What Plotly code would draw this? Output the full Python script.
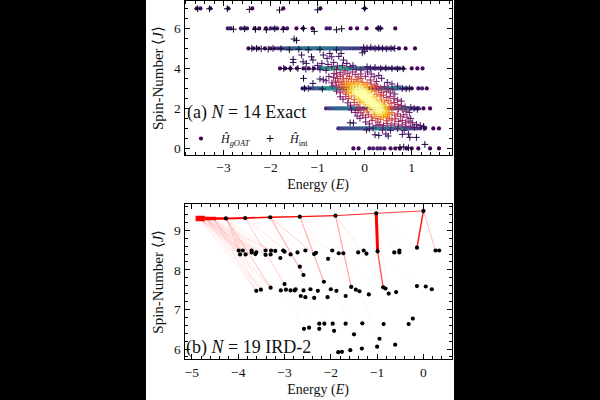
import numpy as np
import plotly.graph_objects as go

# Panel (a): gOAT spectrum, energies of the states on each integer spin level
goat_j7 = [-3.57,-3.49,-3.28,-2.90,-2.39,-1.73,-0.94,0.0]
goat_j6 = [-2.91,-2.85,-2.63,-2.56,-2.50,-2.34,-2.24,-2.10,-2.00,-1.93,-1.86,-1.73,-1.65,-1.45,-1.31,-1.11,-0.81,-0.74,-0.30,-0.16,0.04,0.27,0.34,0.65]
goat_j5 = [-2.47,-2.36,-2.26,-2.12,-2.00,-1.91,-1.84,-1.78,-1.73,-1.67,-1.62,-1.58,-1.53,-1.49,-1.45,-1.41,-1.37,-1.33,-1.29,-1.26,-1.22,-1.18,-1.15,-1.11,-1.07,-1.03,-1.0,-0.96,-0.92,-0.88,-0.85,-0.81,-0.77,-0.73,-0.69,-0.65,-0.61,-0.57,-0.52,-0.47,-0.42,-0.37,-0.31,-0.25,-0.19,-0.13,-0.07,-0.01,0.05,0.12,0.18,0.25,0.31,0.38,0.45,0.52,0.6,0.73,0.87,1.07]
goat_j4 = [-1.80,-1.69,-1.58,-1.44,-1.30,-1.19,-1.08,-0.98,-0.94,-0.91,-0.88,-0.85,-0.82,-0.80,-0.77,-0.74,-0.72,-0.69,-0.67,-0.64,-0.62,-0.59,-0.57,-0.54,-0.52,-0.49,-0.47,-0.44,-0.41,-0.38,-0.35,-0.32,-0.29,-0.26,-0.22,-0.19,-0.15,-0.11,-0.07,-0.03,0.02,0.07,0.12,0.18,0.24,0.3,0.37,0.44,0.51,0.58,0.66,0.74,0.82,1.0,1.12,1.23]
goat_j3 = [-1.32,-1.26,-1.16,-1.11,-1.06,-1.01,-0.97,-0.93,-0.89,-0.85,-0.82,-0.79,-0.76,-0.73,-0.7,-0.67,-0.64,-0.61,-0.58,-0.55,-0.51,-0.47,-0.43,-0.38,-0.32,-0.25,-0.17,-0.09,0.0,0.08,0.16,0.23,0.29,0.34,0.39,0.43,0.47,0.5,0.53,0.56,0.59,0.62,0.65,0.68,0.71,0.75,0.79,0.84,0.9,1.0,1.14,1.22,1.32]
goat_j2 = [-0.82,-0.76,-0.71,-0.66,-0.61,-0.57,-0.53,-0.49,-0.45,-0.41,-0.37,-0.33,-0.29,-0.25,-0.21,-0.16,-0.1,-0.03,0.05,0.14,0.24,0.33,0.42,0.5,0.56,0.62,0.67,0.72,0.76,0.79,0.82,0.85,0.88,0.91,0.95,0.99,1.04,1.09,1.15,1.25,1.39]
goat_j1 = [-0.56,-0.51,-0.46,-0.41,-0.36,-0.31,-0.26,-0.21,-0.16,-0.11,-0.06,-0.01,0.03,0.07,0.1,0.13,0.16,0.19,0.22,0.25,0.28,0.31,0.35,0.39,0.43,0.47,0.51,0.55,0.59,0.63,0.67,0.71,0.74,0.77,0.8,0.83,0.87,0.91,0.96,1.01,1.06,1.12,1.18,1.28,1.46,1.58]
goat_j0 = [-0.24,-0.13,0.10,0.18,0.27,0.34,0.42,0.55,0.65,0.75,0.89,1.0,1.14,1.39,1.58]

# Panel (a): interacting spectrum, (energy, spin) of each state
int_levels = [
    (-3.55,6.98),(-3.3,6.98),(-2.92,6.98),(-2.45,6.95),(-1.81,6.92),(-1.0,6.93),(0.0,7.0),
    (-2.79,5.96),(-2.55,5.98),(-2.32,5.95),(-2.09,5.93),(-1.91,5.98),(-1.73,5.95),(-1.3,6.0),(-1.07,5.85),(-0.6,5.93),(-0.49,5.98),(0.29,6.0),(0.33,6.0),
    (-2.40,5.0),(-2.3,5.0),(-2.2,4.98),(-2.05,4.96),(-1.95,5.0),(-1.78,4.98),(-1.6,4.93),(-1.4,4.96),(-1.2,4.93),(-0.95,4.95),(-0.02,5.05),(0.05,5.02),(0.13,5.06),(0.22,5.0),(0.3,5.03),(0.38,5.0),(0.47,4.98),(0.56,5.0),(0.64,5.0),(-0.05,4.78),(0.0,4.85),
    (-1.72,4.0),(-1.58,3.98),(-1.42,4.0),(-1.25,3.96),(-1.1,3.97),(-0.95,3.95),(0.05,4.08),(0.12,4.02),(0.22,4.05),(0.34,4.0),(0.45,4.02),(0.58,4.0),(0.7,3.98),(0.82,3.98),
    (-1.28,3.0),(-1.2,3.0),(-0.9,2.97),(0.8,3.0),(0.88,2.98),(0.95,3.0),
    (-0.12,2.0),(0.98,2.05),(1.05,2.0),(1.12,1.95),
    (0.1,0.98),(0.18,1.02),(0.04,0.92),(1.25,1.1),(1.26,1.03),
    (0.75,0.05),(0.83,0.07),(0.93,0.03),(1.28,0.2),
    (-0.31,1.28),(-0.24,1.27),(0.22,0.68),(0.3,0.65),(0.45,0.72),(0.5,0.62),(0.8,0.7),(0.93,0.72),(0.96,0.55),(1.1,0.55),
]
int_upper = [
    (-1.5,5.47),(-1.45,5.4),(-1.52,4.45),(-1.52,4.3),(-1.34,4.67),(-1.31,4.33),(-1.13,4.58),(-1.1,4.42),(-1.24,4.25),
    (-0.88,4.67),(-0.74,4.75),(-0.6,4.92),(-0.7,4.58),(-0.91,4.25),(-0.5,4.75),(-0.55,4.6),(-0.8,4.5),(-1.0,4.15),(-0.78,4.2),
    (-0.45,4.42),(-0.38,4.25),(-0.31,4.08),(-0.66,4.3),(-0.58,4.12),(-0.7,4.08),(-0.47,4.15),(-0.25,4.15),(-0.18,3.95),(-0.08,3.92),
    (-1.1,3.25),(-1.3,3.5),(-0.95,3.47),(-0.88,3.43),(-0.82,3.38),(-0.76,3.6),(-0.7,3.28),(-0.65,3.75),(-0.6,3.95),(-0.82,3.9),
    (0.06,3.82),(0.14,3.72),(0.2,3.58),(0.3,3.65),(0.36,3.5),(0.48,3.3),(0.58,3.22),(0.7,3.12),(0.25,3.35),(0.12,3.42),(0.02,3.6),(-0.08,3.72),
]
int_band = [
    (-0.6,3.72),(-0.52,3.8),(-0.46,3.68),(-0.42,3.88),(-0.36,3.76),(-0.32,3.6),(-0.26,3.82),(-0.2,3.7),(-0.14,3.58),(-0.66,3.55),(-0.58,3.5),(-0.52,3.6),(-0.45,3.48),(-0.38,3.5),
    (-0.28,3.46),(-0.18,3.44),(-0.08,3.5),(-0.62,3.36),(-0.55,3.3),(-0.48,3.36),(-0.44,3.26),(-0.34,3.34),(-0.24,3.32),(-0.14,3.36),(-0.05,3.3),(0.05,3.28),(0.14,3.22),(0.22,3.16),
    (-0.68,3.12),(-0.6,3.16),(-0.54,3.05),(-0.5,3.2),(-0.47,3.0),(0.12,3.1),(0.2,3.04),(0.28,3.1),(0.34,3.02),(0.42,3.1),(0.5,3.0),(0.6,2.96),
    (-0.6,2.86),(-0.52,2.78),(-0.44,2.86),(-0.4,2.72),(-0.34,2.8),(0.14,2.92),(0.22,2.86),(0.3,2.92),(0.36,2.8),(0.46,2.85),(0.55,2.78),(0.64,2.72),
    (-0.52,2.58),(-0.46,2.46),(-0.4,2.6),(-0.34,2.5),(-0.28,2.62),(-0.22,2.44),(0.26,2.7),(0.33,2.62),(0.4,2.66),(0.46,2.55),(0.54,2.6),(0.62,2.5),(0.7,2.42),(0.78,2.36),
    (-0.36,2.28),(-0.3,2.16),(-0.22,2.3),(-0.16,2.18),(-0.1,2.3),(0.36,2.42),(0.42,2.32),(0.5,2.38),(0.56,2.26),(0.63,2.3),(0.7,2.2),(0.78,2.14),(0.86,2.08),
    (-0.28,1.92),(-0.2,1.8),(-0.14,1.9),(-0.08,1.78),(-0.02,1.92),(0.05,1.82),(0.52,2.1),(0.58,2.02),(0.65,2.08),(0.72,1.96),(0.8,1.94),(0.88,1.86),(0.95,1.8),
    (-0.16,1.62),(-0.1,1.5),(-0.04,1.66),(0.02,1.55),(0.08,1.68),(0.14,1.58),(0.2,1.7),(0.58,1.78),(0.64,1.66),(0.7,1.72),(0.76,1.6),(0.83,1.68),(0.9,1.56),(0.98,1.5),
    (0.02,1.32),(0.1,1.22),(0.16,1.4),(0.24,1.5),(0.28,1.32),(0.34,1.45),(0.4,1.56),(0.46,1.38),(0.52,1.5),(0.58,1.42),(0.66,1.48),(0.72,1.34),(0.8,1.4),(0.87,1.28),(0.94,1.36),(1.02,1.28),(1.1,1.2),(1.18,1.15),
    (0.24,1.14),(0.32,1.2),(0.4,1.14),(0.48,1.24),(0.56,1.16),(0.64,1.22),(0.72,1.12),(0.8,1.18),(0.88,1.08),(0.98,1.12),(1.06,1.04),(0.7,0.98),(0.55,0.9),(0.38,0.92),(0.84,0.9),
]
int_core = [
    (-0.38,3.21),(-0.3,3.18),(-0.22,3.23),(-0.12,3.19),(-0.02,3.2),(-0.42,3.08),(-0.33,3.12),(-0.26,3.07),(-0.18,3.13),(-0.1,3.06),(-0.04,3.11),(0.05,3.07),
    (-0.36,3.0),(-0.3,2.97),(-0.24,3.02),(-0.17,2.98),(-0.11,3.01),(-0.05,2.96),(0.02,3.0),(-0.3,2.89),(-0.25,2.92),(-0.2,2.87),(-0.14,2.91),(-0.08,2.88),(-0.02,2.92),(0.06,2.88),
    (-0.28,2.79),(-0.2,2.82),(-0.15,2.77),(-0.1,2.81),(-0.04,2.78),(0.02,2.82),(0.1,2.78),(-0.2,2.69),(-0.13,2.72),(-0.08,2.67),(-0.03,2.71),(0.03,2.68),(0.09,2.72),
    (-0.15,2.58),(-0.08,2.61),(-0.02,2.57),(0.04,2.62),(0.1,2.58),(0.18,2.6),(-0.12,2.48),(-0.05,2.52),(0.01,2.47),(0.06,2.51),(0.12,2.48),(0.2,2.52),
    (-0.06,2.39),(0.02,2.42),(0.07,2.37),(0.12,2.41),(0.18,2.38),(0.25,2.42),(-0.02,2.29),(0.05,2.32),(0.11,2.27),(0.16,2.31),(0.21,2.28),(0.28,2.32),
    (0.03,2.19),(0.1,2.22),(0.15,2.18),(0.2,2.21),(0.26,2.17),(0.32,2.22),(0.4,2.18),(0.08,2.09),(0.14,2.12),(0.2,2.08),(0.25,2.11),(0.3,2.07),(0.36,2.12),(0.44,2.08),
    (0.12,1.99),(0.18,2.02),(0.24,1.98),(0.29,2.01),(0.34,1.97),(0.4,2.02),(0.47,1.98),(0.18,1.89),(0.25,1.92),(0.31,1.88),(0.36,1.91),(0.41,1.87),(0.48,1.91),
    (0.24,1.79),(0.3,1.82),(0.36,1.78),(0.42,1.81),(0.5,1.78),(0.3,1.69),(0.38,1.72),(0.44,1.68),(0.52,1.71),(0.4,1.6),(0.48,1.58),(0.3,1.58),
]

# Panel (b): IRD-2 spectrum, (energy, spin) of each state
ird_top = [(0.0,9.49),(-1.02,9.43),(-1.9,9.37),(-2.67,9.345),(-3.31,9.33),(-3.85,9.31),(-4.265,9.30)]
ird_high = [
    (-3.99,8.49),(-3.90,8.49),(-3.96,8.39),(-3.84,8.39),(-3.71,8.49),(-3.71,8.44),(-3.61,8.44),(-3.63,8.40),(-3.41,8.49),(-3.41,8.38),
    (-3.29,8.49),(-3.30,8.39),(-3.20,8.48),(-3.09,8.30),(-3.03,8.49),(-3.00,8.46),(-2.87,8.39),(-2.72,8.44),(-2.55,8.49),(-2.67,8.08),
    (-2.59,7.87),(-2.36,8.40),(-2.32,8.43),(-2.06,8.28),(-1.97,8.49),(-1.83,8.42),(-1.73,8.42),(-1.41,8.44),(-1.29,8.49),(-1.23,8.41),
    (-0.63,8.44),(-0.52,8.49),(-0.52,8.44),(-0.14,8.56),(0.26,8.49),(0.34,8.49),(-0.99,8.47),
]
ird_mid = [
    (-3.61,7.47),(-3.51,7.50),(-3.30,7.55),(-3.08,7.48),(-3.00,7.64),(-2.97,7.50),(-2.87,7.48),(-2.78,7.48),(-2.76,7.51),(-2.65,7.34),
    (-2.59,7.48),(-2.55,7.31),(-2.44,7.51),(-2.36,7.29),(-2.28,7.47),(-2.15,7.70),(-2.07,7.31),(-2.00,7.51),(-1.88,7.47),(-1.68,7.34),
    (-1.56,7.57),(-1.46,7.50),(-1.38,7.46),(-1.18,7.38),(-0.87,7.56),(-0.82,7.53),(-0.75,7.40),(-0.59,7.44),(-0.14,7.59),(0.05,7.58),(0.18,7.51),
]
ird_low = [
    (-2.58,6.51),(-2.47,6.54),(-2.25,6.64),(-2.14,6.64),(-2.25,6.51),(-1.96,6.64),(-1.93,6.46),(-1.68,6.64),(-1.50,6.37),(-1.32,6.65),
    (-0.86,6.63),(-0.95,6.26),(-0.32,6.63),(-0.23,6.77),(-1.84,5.92),(-1.76,5.93),(-1.58,5.97),(-1.33,6.01),(-1.00,6.06),(-0.61,6.11),
]

# Transition paths: start energy, start spin, end energy, end spin, width, opacity
ird_spine = [
    (-4.92,9.30,-4.72,9.30,5.5,1.0),(-4.72,9.30,-4.48,9.30,3.5,1.0),(-4.48,9.30,-4.265,9.30,2.4,1.0),(-4.265,9.30,-3.85,9.31,2.0,1.0),
    (-3.85,9.31,-3.31,9.33,1.7,1.0),(-3.31,9.33,-2.67,9.345,1.4,1.0),(-2.67,9.345,-1.9,9.37,1.2,0.95),(-1.9,9.37,-1.02,9.43,1.0,0.85),(-1.02,9.43,0.0,9.49,1.0,0.75),
    (-1.02,9.43,-0.99,8.47,3.0,1.0),(0.0,9.49,-0.14,8.56,1.6,0.85),(-0.99,8.47,-0.87,7.56,1.3,0.7),
    (0.0,9.49,0.26,8.49,1.0,0.25),(-1.9,9.37,-1.56,7.57,1.2,0.35),(-2.67,9.345,-2.15,7.70,1.2,0.32),(-3.31,9.33,-2.59,7.87,1.2,0.3),
    (-3.31,9.33,-2.36,8.40,1.0,0.2),(-3.85,9.31,-3.00,7.64,1.0,0.2),(-4.265,9.30,-3.30,7.55,1.0,0.2),(-3.85,9.31,-2.87,8.39,1.0,0.12),
]
ird_fan_start = [(-4.84,9.30),(-4.7,9.30),(-4.55,9.30),(-4.265,9.30)]
ird_fan_end = [(-3.99,8.49),(-3.90,8.49),(-3.96,8.39),(-3.84,8.39),(-3.71,8.44),(-3.61,8.44),(-3.41,8.38),(-3.61,7.47),(-3.51,7.50),(-3.30,7.55),(-3.29,8.49)]
ird_faint = [
    (-1.02,9.43,-0.63,8.44),(-1.02,9.43,-0.52,8.49),(-1.02,9.43,-0.75,7.40),(-1.9,9.37,-0.82,7.53),(-1.9,9.37,-1.29,8.49),(-1.9,9.37,-0.59,7.44),
    (-2.67,9.345,-1.73,8.42),(-2.67,9.345,-1.41,8.44),(-2.67,9.345,-1.46,7.50),(-3.31,9.33,-1.97,8.49),(-3.31,9.33,-2.00,7.51),(-3.85,9.31,-2.36,8.40),
    (-3.85,9.31,-2.44,7.51),(-0.99,8.47,-0.14,7.59),(-1.02,9.43,-0.14,8.56),(-2.0,8.49,-0.75,7.40),(-3.0,7.48,-2.58,6.51),(-2.87,7.48,-2.25,6.51),
    (-2.44,7.51,-1.93,6.46),(-1.88,7.47,-1.5,6.37),(-1.38,7.46,-0.95,6.26),
]

W, H = 600.0, 400.0
SERIF = "Liberation Serif"
INK = "#111111"


def density(e, j, sig_e, sig_j):
    # Gaussian point density used to colour each state
    e, j = np.asarray(e), np.asarray(j)
    de = (e[:, None] - e[None, :]) / sig_e
    dj = (j[:, None] - j[None, :]) / sig_j
    return np.exp(-0.5 * (de ** 2 + dj ** 2)).sum(axis=1)


goat_levels = [(7, goat_j7), (6, goat_j6), (5, goat_j5), (4, goat_j4), (3, goat_j3), (2, goat_j2), (1, goat_j1), (0, goat_j0)]
goat_e = np.array([v for _, lv in goat_levels for v in lv])
goat_s = np.array([float(n) for n, lv in goat_levels for _ in lv])
goat_d = density(goat_e, goat_s, 0.05, 0.1)
order = np.argsort(goat_d)
goat_e, goat_s, goat_d = goat_e[order], goat_s[order], goat_d[order]

int_all = np.array(int_levels + int_upper + int_band + int_core)
int_d = density(int_all[:, 0], int_all[:, 1], 0.14, 0.25)
order = np.argsort(int_d)
int_all, int_d = int_all[order], int_d[order]

fig = go.Figure()

fig.add_trace(go.Scatter(
    x=goat_e, y=goat_s, mode="markers", name="<i>Ĥ</i><sub><i>gOAT</i></sub>",
    marker=dict(symbol="circle", size=4.2, color=goat_d, colorscale="Viridis", cmin=1, cmax=7.2, line_width=0),
    xaxis="x", yaxis="y",
))
fig.add_trace(go.Scatter(
    x=int_all[:, 0], y=int_all[:, 1], mode="markers", name="<i>Ĥ</i><sub>int</sub>",
    marker=dict(symbol="cross-thin", size=4.8, color=int_d, colorscale="Inferno", cmin=0.0, cmax=27.0,
                line=dict(width=1.0, color=int_d, colorscale="Inferno", cmin=0.0, cmax=27.0)),
    xaxis="x", yaxis="y",
))

for e0, j0, e1, j1 in ird_faint:
    fig.add_trace(go.Scatter(x=[e0, e1], y=[j0, j1], mode="lines", showlegend=False,
                             line=dict(color="rgba(255,0,0,0.06)", width=0.8), xaxis="x2", yaxis="y2", hoverinfo="skip"))
for e0, j0 in ird_fan_start:
    for e1, j1 in ird_fan_end:
        fig.add_trace(go.Scatter(x=[e0, e1], y=[j0, j1], mode="lines", showlegend=False,
                                 line=dict(color="rgba(255,0,0,0.07)", width=1), xaxis="x2", yaxis="y2", hoverinfo="skip"))
for e0, j0, e1, j1, w, a in ird_spine:
    fig.add_trace(go.Scatter(x=[e0, e1], y=[j0, j1], mode="lines", showlegend=False,
                             line=dict(color=f"rgba(255,0,0,{a})", width=w), xaxis="x2", yaxis="y2", hoverinfo="skip"))

ird_states = np.array(ird_top + ird_high + ird_mid + ird_low)
fig.add_trace(go.Scatter(x=ird_states[:, 0], y=ird_states[:, 1], mode="markers", showlegend=False,
                         marker=dict(color="black", size=4.2), xaxis="x2", yaxis="y2"))

# Empty traces so the overlay axes carrying the top and right ticks get drawn
for xa, ya in (("x3", "y3"), ("x4", "y4")):
    fig.add_trace(go.Scatter(x=[None], y=[None], mode="markers", showlegend=False, xaxis=xa, yaxis=ya, hoverinfo="skip"))


def tick_style(dtick, minor):
    return dict(
        tickmode="linear", tick0=0, dtick=dtick, showgrid=False, zeroline=False,
        showline=True, linecolor="black", linewidth=1, ticks="inside", ticklen=5, tickcolor="black",
        minor=dict(tickmode="linear", tick0=0, dtick=minor, ticks="inside", ticklen=3, tickcolor="black", showgrid=False),
    )


def axis_style(rng, dtick, minor, domain, anchor, title, title_size, standoff):
    return dict(
        range=rng, domain=domain, anchor=anchor, **tick_style(dtick, minor),
        tickfont=dict(family=SERIF, size=13.5, color=INK),
        title=dict(text=title, font=dict(family=SERIF, size=title_size, color=INK), standoff=standoff),
    )


def mirror_style(rng, dtick, minor, over, anchor, side):
    return dict(
        range=rng, overlaying=over, anchor=anchor, side=side, showticklabels=False, **tick_style(dtick, minor),
    )


L, R = 184.5, 451.7
range_xa, range_ya = [-3.83, 1.85], [-0.33, 7.37]
range_xb, range_yb = [-5.16, 0.61], [5.74, 9.665]
fig.update_layout(
    width=600, height=400, margin=dict(l=0, r=0, t=0, b=0), autosize=False,
    paper_bgcolor="black", plot_bgcolor="white",
    font=dict(family=SERIF, color=INK),
    xaxis=axis_style(range_xa, 1, 0.2, [L / W, R / W], "y", "Energy (<i>E</i>)", 14, 4),
    yaxis=axis_style(range_ya, 2, 0.5, [1 - 155 / H, 1 - 1 / H], "x", "Spin-Number ⟨<i>J</i>⟩", 15, 6),
    xaxis2=axis_style(range_xb, 1, 0.2, [L / W, R / W], "y2", "Energy (<i>E</i>)", 14, 5),
    yaxis2=axis_style(range_yb, 1, 0.2, [1 - 359.3 / H, 1 - 204 / H], "x2", "Spin-Number ⟨<i>J</i>⟩", 15, 6),
    xaxis3=mirror_style(range_xa, 1, 0.2, "x", "y3", "top"),
    yaxis3=mirror_style(range_ya, 2, 0.5, "y", "x3", "right"),
    xaxis4=mirror_style(range_xb, 1, 0.2, "x2", "y4", "top"),
    yaxis4=mirror_style(range_yb, 1, 0.2, "y2", "x4", "right"),
    legend=dict(orientation="h", x=181 / W, y=1 - 124 / H, xanchor="left", yanchor="top", bgcolor="rgba(0,0,0,0)",
                font=dict(family=SERIF, size=12, color=INK), entrywidth=24, entrywidthmode="pixels",
                itemsizing="trace", traceorder="normal", itemwidth=30),
    shapes=[dict(type="rect", xref="paper", yref="paper", x0=146 / W, x1=454 / W, y0=0, y1=1,
                 fillcolor="white", line_width=0, layer="below")],
    annotations=[
        dict(text="(a) <i>N</i> = 14 Exact", xref="paper", yref="paper", x=185 / W, y=1 - 112 / H,
             xanchor="left", yanchor="middle", showarrow=False, font=dict(family=SERIF, size=18, color=INK)),
        dict(text="(b) <i>N</i> = 19 IRD-2", xref="paper", yref="paper", x=184 / W, y=1 - 347 / H,
             xanchor="left", yanchor="middle", showarrow=False, font=dict(family=SERIF, size=18, color=INK)),
    ],
)

fig.write_html("out.html")
